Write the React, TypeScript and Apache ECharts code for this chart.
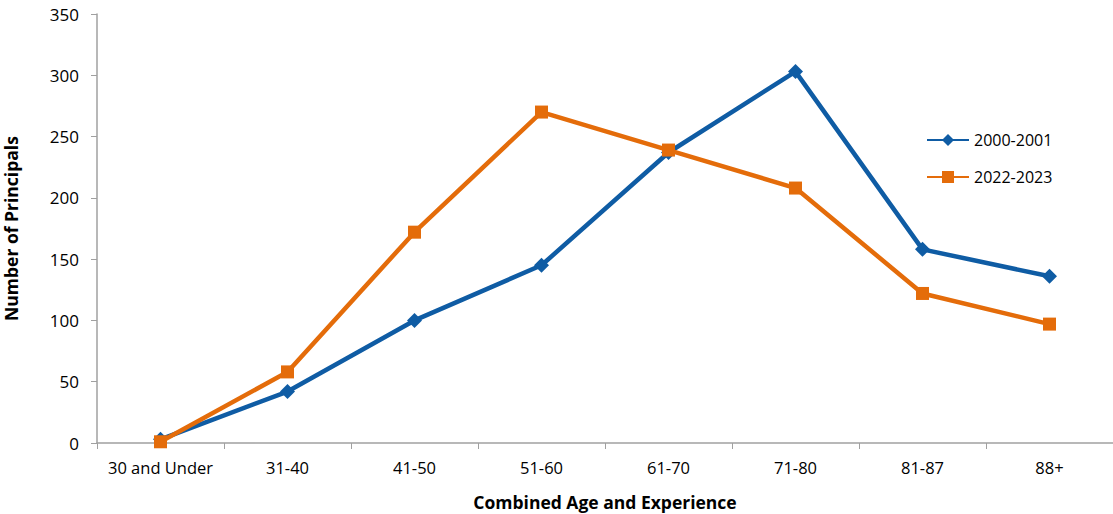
import React, { useEffect, useRef } from "react";
import * as echarts from "echarts";

const categories = ["30 and Under", "31-40", "41-50", "51-60", "61-70", "71-80", "81-87", "88+"];
const series2000 = [3, 42, 100, 145, 237, 303, 158, 136];
const series2022 = [1, 58, 172, 270, 239, 208, 122, 97];
const yTicks = { min: 0, max: 350, interval: 50 };

const FONT = "'Open Sans', Lato, sans-serif";
const BLUE = "#0f5ca4";
const ORANGE = "#e46c0a";

export default function App() {
  const ref = useRef<HTMLDivElement>(null);
  useEffect(() => {
    if (!ref.current) return;
    const chart = echarts.init(ref.current, null, { renderer: "svg" });
    chart.setOption({
      animation: false,
      grid: { left: 97, right: 0, top: 14, bottom: 71, containLabel: false, outerBoundsMode: "none" },
      legend: {
        orient: "vertical",
        left: 921,
        top: 127,
        itemGap: 21,
        itemWidth: 42,
        itemHeight: 15,
        textStyle: { fontFamily: FONT, fontSize: 16, color: "#000" },
        data: ["2000-2001", "2022-2023"],
      },
      xAxis: {
        type: "category",
        data: categories,
        boundaryGap: true,
        name: "Combined Age and Experience",
        nameLocation: "middle",
        nameGap: 50,
        nameTextStyle: { fontFamily: FONT, fontSize: 17.5, fontWeight: "bold", color: "#000" },
        axisLine: { lineStyle: { color: "#a0a0a0", width: 1.5 } },
        axisTick: { show: true, interval: 0, length: 6, lineStyle: { color: "#a0a0a0" } },
        axisLabel: { fontFamily: FONT, fontSize: 16.5, color: "#000", margin: 16, interval: 0 },
        splitLine: { show: false },
      },
      yAxis: {
        type: "value",
        min: yTicks.min,
        max: yTicks.max,
        interval: yTicks.interval,
        name: "Number of Principals",
        nameLocation: "middle",
        nameGap: 77,
        nameTextStyle: { fontFamily: FONT, fontSize: 17.5, fontWeight: "bold", color: "#000" },
        axisLine: { show: true, lineStyle: { color: "#a0a0a0", width: 1.5 } },
        axisTick: { show: true, length: 6, lineStyle: { color: "#a0a0a0" } },
        axisLabel: { fontFamily: FONT, fontSize: 17, color: "#000", margin: 18 },
        splitLine: { show: false },
      },
      series: [
        {
          name: "2000-2001",
          type: "line",
          data: series2000,
          symbol: "diamond",
          symbolSize: 15,
          lineStyle: { color: BLUE, width: 4.5 },
          itemStyle: { color: BLUE },
          z: 2,
        },
        {
          name: "2022-2023",
          type: "line",
          data: series2022,
          symbol: "rect",
          symbolSize: 13,
          lineStyle: { color: ORANGE, width: 4.5 },
          itemStyle: { color: ORANGE },
          z: 3,
        },
      ],
    });
    return () => chart.dispose();
  }, []);
  return (
    <div
      ref={ref}
      style={{ position: "fixed", left: 0, top: 0, width: 1113, height: 514, background: "#fff" }}
    />
  );
}
